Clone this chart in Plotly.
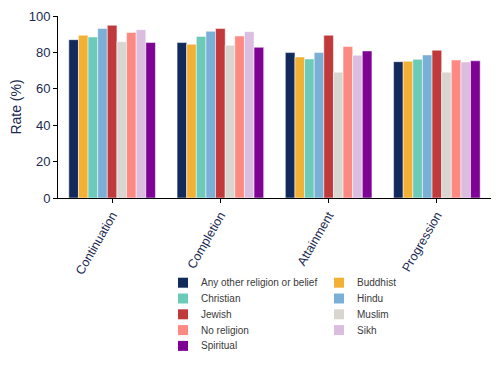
import plotly.graph_objects as go

categories = ["Continuation", "Completion", "Attainment", "Progression"]
groups = ["Any other religion or belief", "Buddhist", "Christian", "Hindu", "Jewish",
          "Muslim", "No religion", "Sikh", "Spiritual"]
any_other = [87.0, 85.4, 79.9, 74.9]
buddhist = [89.4, 84.5, 77.5, 75.1]
christian = [88.5, 88.8, 76.4, 76.2]
hindu = [93.1, 91.6, 79.9, 78.6]
jewish = [94.9, 93.1, 89.4, 81.2]
muslim = [85.9, 83.9, 69.1, 69.1]
no_religion = [91.0, 89.0, 83.2, 75.8]
sikh = [92.5, 91.4, 78.4, 74.7]
spiritual = [85.4, 82.8, 80.8, 75.4]
series = [any_other, buddhist, christian, hindu, jewish, muslim, no_religion, sikh, spiritual]
colors = ["#12295b", "#f2b134", "#6ccbb8", "#7aafd6", "#c0393b",
          "#d9d5d0", "#fc8a82", "#dbbde0", "#7e0394"]

# The page body adds an 8px offset; the figure is sized to fit the 500x367 window.
OFF = 8
W, H = 500 - OFF, 367 - OFF
ML, MR, MT, MB = 58 - OFF, 9, 16 - OFF, 169
PW, PH = W - ML - MR, H - MT - MB

fig = go.Figure()
for name, vals, col in zip(groups, series, colors):
    fig.add_trace(go.Bar(x=categories, y=vals, name=name, showlegend=False,
                         marker=dict(color=col, line=dict(color="white", width=0.5))))

# Custom two-column legend (row-wise order), drawn as shapes + text annotations
def px_x(x):  # page pixel -> paper
    return (x - OFF - ML) / PW

def px_y(y):
    return (H - MB - (y - OFF)) / PH

col_x = [178, 334]
row_y0 = 282.7
row_step = 15.8
sq = 10
for i, (name, col) in enumerate(zip(groups, colors)):
    r, c = divmod(i, 2)
    cx = col_x[c]
    cy = row_y0 + r * row_step
    fig.add_shape(type="rect", xref="paper", yref="paper",
                  x0=px_x(cx), x1=px_x(cx + sq), y0=px_y(cy - sq / 2), y1=px_y(cy + sq / 2),
                  fillcolor=col, line=dict(width=0))
    fig.add_annotation(text=name, xref="paper", yref="paper", x=px_x(cx + 21), y=px_y(cy),
                       xanchor="left", yanchor="middle", showarrow=False,
                       font=dict(size=10, color="#3a3a3a"))

navy = "#1c2b4f"
fig.update_layout(
    width=W, height=H,
    margin=dict(l=ML, r=MR, t=MT, b=MB),
    paper_bgcolor="white", plot_bgcolor="white",
    barmode="group", bargap=0.2, bargroupgap=0,
    font=dict(family="Liberation Sans, Arial, sans-serif", color=navy),
    xaxis=dict(showline=True, linecolor="black", linewidth=1, ticks="outside",
               ticklen=4, tickcolor="black", tickangle=-60, automargin=False,
               tickfont=dict(size=12.5, color=navy), showgrid=False),
    yaxis=dict(range=[0, 100], showline=True, linecolor="black", linewidth=1,
               ticks="outside", ticklen=4, tickcolor="black", dtick=20,
               showgrid=False, zeroline=False, automargin=False,
               tickfont=dict(size=13, color=navy),
               title=dict(text="Rate (%)", font=dict(size=14, color=navy), standoff=11)),
    showlegend=False,
)

fig.write_html("out.html")
